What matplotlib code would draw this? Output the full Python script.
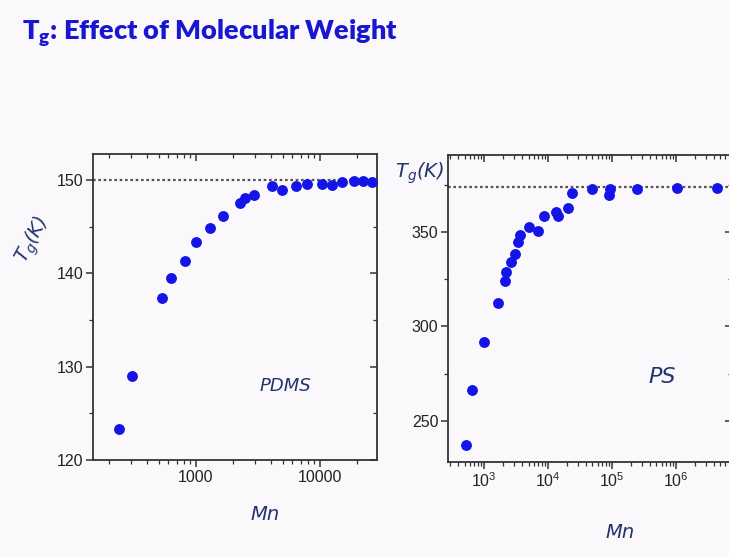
import numpy as np
import matplotlib
matplotlib.use("Agg")
import matplotlib.pyplot as plt
from matplotlib.ticker import LogLocator, FixedLocator, NullFormatter, FuncFormatter

# PDMS data (Mn, Tg in K)
pdms_mn = [238, 307, 532, 632, 811, 1000, 1306, 1651, 2280, 2473, 2920, 4130,
           4975, 6450, 7910, 10380, 12590, 15140, 18780, 22230, 26300]
pdms_tg = [123.3, 129.0, 137.4, 139.5, 141.3, 143.4, 144.9, 146.2, 147.5, 148.1,
           148.4, 149.4, 148.9, 149.4, 149.6, 149.6, 149.5, 149.85, 149.9, 149.9, 149.85]
pdms_tginf = 150.0

# PS data (Mn, Tg in K)
ps_mn = [523, 649, 989, 1637, 2130, 2183, 2643, 3050, 3435, 3740, 5100, 7050,
         8660, 13330, 14490, 20760, 24300, 49900, 93000, 91000, 251700, 1.06e6, 4.47e6]
ps_tg = [237.1, 266.2, 291.5, 312.6, 324.1, 328.8, 333.8, 338.2, 344.7, 348.3,
         352.3, 350.4, 358.3, 360.6, 358.3, 362.4, 370.3, 372.4, 372.4, 369.4,
         372.4, 373.3, 373.3]
ps_tginf = 373.8

bg = '#fbf8fb'
dot_c = '#1414e6'
ink = '#22336e'
tick_font = ['Liberation Sans', 'DejaVu Sans']

plt.rcParams['mathtext.default'] = 'regular'
W, H = 729, 557
fig = plt.figure(figsize=(W / 100, H / 100), dpi=100, facecolor=bg)


def px(x, y):
    return x / W, 1 - y / H


def style_axes(ax):
    ax.set_facecolor(bg)
    for s in ax.spines.values():
        s.set_linewidth(1.3)
        s.set_color('#333333')
    ax.tick_params(which='both', color='#333333', labelsize=11.5, pad=2)
    ax.tick_params(which='major', length=5, width=1.1)
    ax.tick_params(which='minor', length=3, width=0.9)
    for lab in ax.get_xticklabels() + ax.get_yticklabels():
        lab.set_family(tick_font)
        lab.set_color('#222222')


# left panel: PDMS
ax1 = fig.add_axes([93 / W, 1 - 460 / H, 284 / W, 306 / H])
ax1.set_xscale('log')
ax1.set_xlim(148, 28800)
ax1.set_ylim(120, 152.8)
ax1.axhline(pdms_tginf, color='#555555', ls=(0, (1.2, 1.2)), lw=1.6, zorder=1)
ax1.plot(pdms_mn, pdms_tg, 'o', color=dot_c, ms=6.8, mec=dot_c, zorder=3)
ax1.yaxis.set_major_locator(FixedLocator([120, 130, 140, 150]))
ax1.yaxis.set_minor_locator(FixedLocator([125, 135, 145]))
ax1.xaxis.set_major_locator(FixedLocator([1000, 10000]))
ax1.xaxis.set_major_formatter(FuncFormatter(lambda v, p: f'{int(round(v))}'))
ax1.xaxis.set_minor_locator(LogLocator(base=10, subs=np.arange(2, 10)))
ax1.xaxis.set_minor_formatter(NullFormatter())
style_axes(ax1)

# right panel: PS
ax2 = fig.add_axes([448 / W, 1 - 462 / H, 284 / W, 307 / H])
ax2.set_xscale('log')
ax2.set_xlim(10 ** 2.44, 10 ** 6.88)
ax2.set_ylim(228.3, 390.6)
ax2.axhline(ps_tginf, color='#555555', ls=(0, (1.2, 1.2)), lw=1.6, zorder=1)
ax2.plot(ps_mn, ps_tg, 'o', color=dot_c, ms=6.8, mec=dot_c, zorder=3)
ax2.yaxis.set_major_locator(FixedLocator([250, 300, 350]))
ax2.yaxis.set_minor_locator(FixedLocator([275, 325, 375]))
ax2.xaxis.set_major_locator(LogLocator(base=10, numticks=10))
ax2.xaxis.set_major_formatter(FuncFormatter(lambda v, p: f'$10^{{{int(round(np.log10(v)))}}}$'))
ax2.xaxis.set_minor_locator(LogLocator(base=10, subs=np.arange(2, 10), numticks=20))
ax2.xaxis.set_minor_formatter(NullFormatter())
style_axes(ax2)

# ticks out on bottom/left, inward on top/right
for a in (ax1, ax2):
    a.tick_params(axis='x', which='both', top=True, direction='out')
    a.tick_params(axis='y', which='both', right=True, direction='out')
    for t in a.xaxis.get_major_ticks() + a.xaxis.get_minor_ticks():
        t.tick2line.set_marker(3)
    for t in a.yaxis.get_major_ticks() + a.yaxis.get_minor_ticks():
        t.tick2line.set_marker(0)

# title
x, y = px(22, 40)
fig.text(x, y, 'T$_g$: Effect of Molecular Weight', color='#1717d0',
         fontsize=19.5, fontweight='heavy', family=['Lato', 'DejaVu Sans'],
         va='baseline', ha='left')

# handwritten notes
hand = dict(color=ink, style='italic', family=['DejaVu Sans'], ha='center', va='center')
fig.text(*px(33, 240), 'T$_g$(K)', fontsize=14, rotation=62, **hand)
fig.text(*px(285, 386), 'PDMS', fontsize=13, **hand)
fig.text(*px(265, 515), 'Mn', fontsize=14, **hand)
fig.text(*px(420, 173), 'T$_g$(K)', fontsize=14, **hand)
fig.text(*px(662, 377), 'PS', fontsize=16, **hand)
fig.text(*px(620, 532), 'Mn', fontsize=14, **hand)

fig.savefig('out.png', dpi=100, facecolor=bg)
